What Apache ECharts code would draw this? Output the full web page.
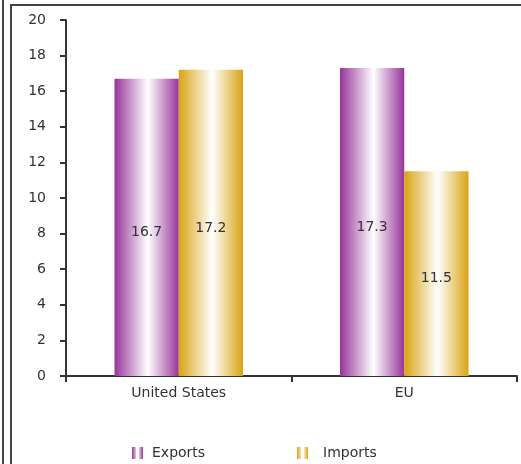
<!DOCTYPE html>
<html>
<head>
<meta charset="utf-8">
<script src="https://cdn.jsdelivr.net/npm/echarts@6/dist/echarts.min.js"></script>
<style>
  html, body { margin: 0; padding: 0; background: #fff; }
  #chart { width: 521px; height: 464px; }
</style>
</head>
<body>
<div id="chart"></div>
<script>
const categories = ['United States', 'EU'];
const exportsData = [16.7, 17.3];
const importsData = [17.2, 11.5];

const chart = echarts.init(document.getElementById('chart'));

function barGradient(edge) {
  return new echarts.graphic.LinearGradient(0, 0, 1, 0, [
    { offset: 0, color: edge },
    { offset: 0.52, color: '#ffffff' },
    { offset: 1, color: edge }
  ]);
}

const purple = barGradient('#98349a');
const gold = barGradient('#d9a312');
const legendIcon = 'path://M0,0h4v12h-4z M7,0h4v12h-4z';

// one legend per series so each sits where the reference puts it
function legendAt(name, left, gap) {
  return {
    left: left,
    top: 441,
    itemWidth: 11,
    itemHeight: 13,
    textStyle: { fontSize: 14, color: '#333', padding: [0, 0, 0, gap] },
    data: [{ name: name, icon: legendIcon }]
  };
}

const option = {
  animation: false,
  textStyle: { fontFamily: 'DejaVu Sans, sans-serif' },
  grid: { left: 66, right: 4, top: 20, bottom: 88 },
  graphic: [
    { type: 'line', shape: { x1: 3, y1: 0, x2: 3, y2: 464 }, style: { stroke: '#444', lineWidth: 2 } },
    { type: 'rect', shape: { x: 11, y: 5, width: 540, height: 480 }, style: { fill: 'none', stroke: '#444', lineWidth: 2 } }
  ],
  legend: [
    legendAt('Exports', 127, 4),
    legendAt('Imports', 292, 10)
  ],
  xAxis: {
    type: 'category',
    data: categories,
    axisLine: { lineStyle: { color: '#333', width: 2 } },
    axisTick: { show: true, alignWithLabel: false, length: 6, lineStyle: { color: '#333', width: 2 } },
    axisLabel: { color: '#333', fontSize: 14, margin: 10 }
  },
  yAxis: {
    type: 'value',
    min: 0,
    max: 20,
    interval: 2,
    splitLine: { show: false },
    axisLine: { show: true, lineStyle: { color: '#333', width: 2 } },
    axisTick: { show: true, length: 6, lineStyle: { color: '#333', width: 2 } },
    axisLabel: { color: '#333', fontSize: 14, margin: 20 }
  },
  series: [
    {
      name: 'Exports',
      type: 'bar',
      data: exportsData,
      barGap: '0%',
      barCategoryGap: '43%',
      itemStyle: { color: purple },
      label: { show: true, position: 'inside', offset: [0, 5], color: '#333', fontSize: 14 }
    },
    {
      name: 'Imports',
      type: 'bar',
      data: importsData,
      itemStyle: { color: gold },
      label: { show: true, position: 'inside', offset: [0, 5], color: '#333', fontSize: 14 }
    }
  ]
};

chart.setOption(option);
</script>
</body>
</html>
